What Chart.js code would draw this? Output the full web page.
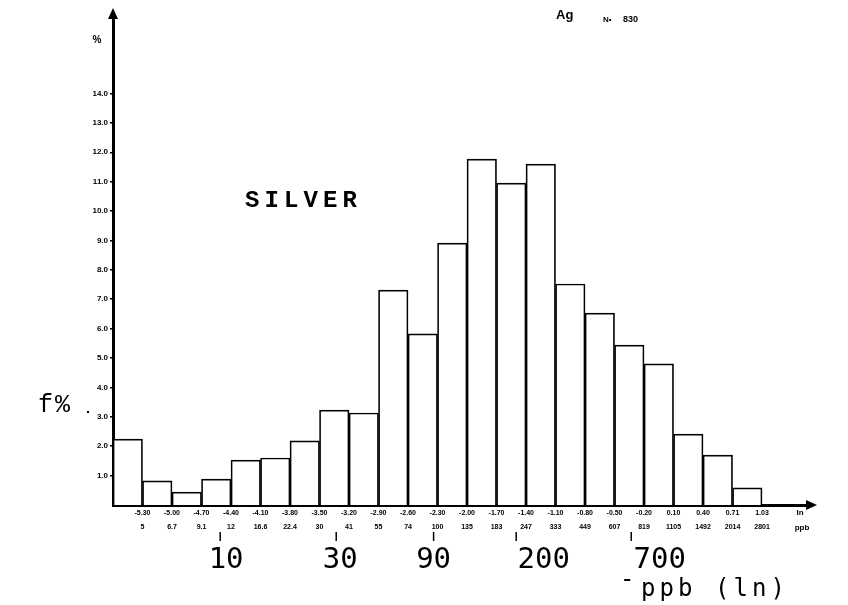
<!DOCTYPE html>
<html><head><meta charset="utf-8">
<script src="https://cdn.jsdelivr.net/npm/chart.js@4/dist/chart.umd.min.js"></script>
<style>html,body{margin:0;padding:0;background:#fff}#wrap{width:848px;height:605px}</style>
</head><body><div id="wrap"><canvas id="c" width="848" height="605"></canvas></div>
<script>
// ln(ppm) class edges
const binEdges = [-5.6,-5.3,-5.0,-4.7,-4.4,-4.1,-3.8,-3.5,-3.2,-2.9,-2.6,-2.3,-2.0,-1.7,-1.4,-1.1,-0.8,-0.5,-0.2,0.1,0.4,0.7,1.0];
// frequency (%) per class
const freq = [2.24,0.82,0.44,0.88,1.53,1.60,2.18,3.23,3.13,7.31,5.82,8.91,11.77,10.95,11.60,7.52,6.53,5.44,4.80,2.41,1.70,0.58];
// tick labels under class edges (edges 1..22)
const lnLabels = ['-5.30','-5.00','-4.70','-4.40','-4.10','-3.80','-3.50','-3.20','-2.90','-2.60','-2.30','-2.00','-1.70','-1.40','-1.10','-0.80','-0.50','-0.20','0.10','0.40','0.71','1.03'];
const ppbLabels = ['5','6.7','9.1','12','16.6','22.4','30','41','55','74','100','135','183','247','333','449','607','819','1105','1492','2014','2801'];
const yTicks = [1,2,3,4,5,6,7,8,9,10,11,12,13,14];
// hand-written ppb reference marks (position on ln axis)
const refLabels = ['10','30','90','200','700'];
const refTickAt = [-4.51,-3.33,-2.34,-1.50,-0.33];
const refTextAt = [-4.45,-3.29,-2.34,-1.22,-0.04];

const centers = binEdges.slice(0,-1).map((e,i)=>(e+binEdges[i+1])/2);

const deco = {
  id:'deco',
  afterDraw(chart){
    const c = chart.ctx, xs = chart.scales.x, ys = chart.scales.y;
    const L = chart.chartArea.left, B = chart.chartArea.bottom, R = chart.chartArea.right, T = chart.chartArea.top;
    c.save();
    c.fillStyle = '#000'; c.strokeStyle = '#000';
    // arrows
    c.beginPath(); c.moveTo(L, T-7); c.lineTo(L-5, T+4); c.lineTo(L+5, T+4); c.closePath(); c.fill();
    c.beginPath(); c.moveTo(R+5, B); c.lineTo(R-6, B-5); c.lineTo(R-6, B+5); c.closePath(); c.fill();
    // small labels
    c.font = 'bold 10px "Liberation Sans"'; c.textAlign = 'center'; c.textBaseline = 'middle';
    c.fillText('%', L-16, ys.getPixelForValue(15.8));
    c.font = 'bold 8px "Liberation Sans"';
    c.fillText('ln', R-12, B+8);
    c.fillText('ppb', R-10, B+23);
    // top labels
    c.font = 'bold 13px "Liberation Sans"'; c.textAlign='left'; c.textBaseline='alphabetic';
    c.fillText('Ag', 556, 19);
    c.font = 'bold 8px "Liberation Sans"';
    c.fillText('N\u2022', 603, 22);
    c.font = 'bold 9px "Liberation Sans"';
    c.fillText('830', 623, 22);
    // reference ppb marks
    c.lineWidth = 1.5;
    c.font = '29px "DejaVu Sans Mono"'; c.textAlign='center';
    refLabels.forEach((t,i)=>{
      const px = xs.getPixelForValue(refTickAt[i]);
      c.beginPath(); c.moveTo(px, B+27); c.lineTo(px, B+36); c.stroke();
      c.fillText(t, xs.getPixelForValue(refTextAt[i]), B+63);
    });
    // SILVER
    c.font = 'bold 24px "Liberation Mono"'; c.textAlign='left';
    let x0 = 245;
    for (const ch of 'SILVER'){ c.fillText(ch, x0, 207); x0 += 19.5; }
    // f%
    c.font = '25px "Liberation Mono"';
    c.fillText('f', 38, 412);
    c.fillText('%', 55, 412);
    c.fillRect(87, 411, 2, 2);
    // ppb (ln)
    c.font = '24px "DejaVu Sans Mono"';
    c.fillText('-', 620, 587);
    x0 = 641;
    for (const ch of 'ppb (ln)'){ c.fillText(ch, x0, 596); x0 += 18.5; }
    c.restore();
  }
};

new Chart(document.getElementById('c'), {
  type: 'bar',
  data: { datasets: [{
    data: centers.map((x,i)=>({x, y: freq[i]})),
    backgroundColor: '#fff', borderColor: '#000', borderWidth: 1.7,
    barPercentage: 1, categoryPercentage: 1
  }]},
  options: {
    responsive: false, animation: false, devicePixelRatio: 1,
    layout: { padding: { left: 0, right: 36, top: 15, bottom: 0 } },
    plugins: { legend: { display: false }, tooltip: { enabled: false } },
    scales: {
      x: {
        type: 'linear', min: -5.6, max: 1.508, offset: false,
        grid: { display: false },
        border: { display: true, color: '#000', width: 3 },
        afterBuildTicks: s => { s.ticks = binEdges.slice(1).map(v => ({ value: v })); },
        ticks: {
          autoSkip: false, maxRotation: 0, minRotation: 0, padding: -7, color: '#000',
          font: { family: 'Liberation Sans', size: 7, weight: 'bold', lineHeight: 2 },
          callback: (v, i) => [lnLabels[i], ppbLabels[i]]
        },
        afterFit: s => { s.height = 100; }
      },
      y: {
        min: 0, max: 16.67,
        grid: { display: true, drawOnChartArea: false, tickLength: 3, color: '#000', lineWidth: 1.5 },
        border: { display: true, color: '#000', width: 3 },
        afterBuildTicks: s => { s.ticks = yTicks.map(v => ({ value: v })); },
        ticks: {
          autoSkip: false, padding: 2, color: '#000',
          font: { family: 'Liberation Sans', size: 8, weight: 'bold' },
          callback: v => v.toFixed(1)
        },
        afterFit: s => { s.width = 113; }
      }
    }
  },
  plugins: [deco]
});
</script></body></html>
